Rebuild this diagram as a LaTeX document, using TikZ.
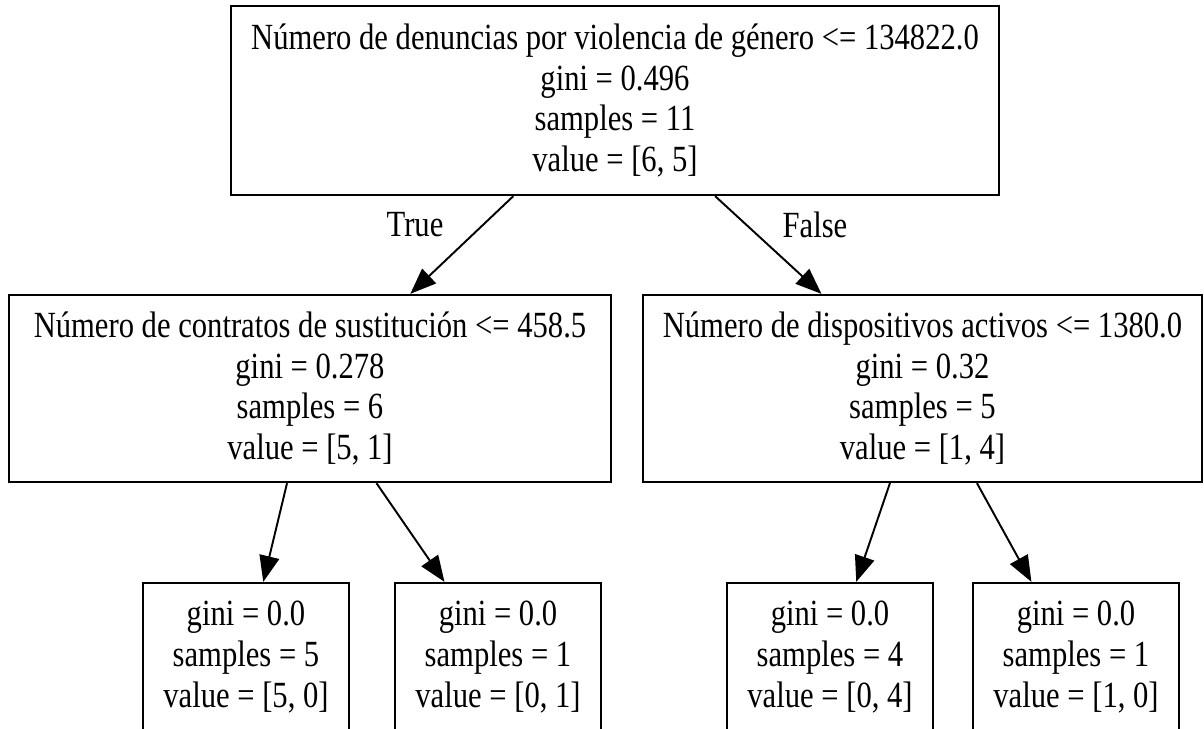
\documentclass[tikz,border=0pt]{standalone}
\usepackage{fontspec}
\setmainfont{Liberation Serif}[FakeStretch=0.83]
\usetikzlibrary{calc,arrows.meta}

\begin{document}
\begin{tikzpicture}[x=0.02cm,y=-0.02cm,
    box/.style={draw,line width=1.3pt,align=center,inner sep=0pt,
      font=\fontsize{21pt}{23.2pt}\selectfont},
    leaf/.style={box,minimum width=206*0.02cm,minimum height=148*0.02cm},
    edge/.style={line width=1.1pt,-{Triangle[length=0.52cm,width=0.4cm]}},
    lbl/.style={font=\fontsize{21pt}{23.2pt}\selectfont}]
				\useasboundingbox (0,0) rectangle (1204,729);
				
				\node[box,minimum width=768*0.02cm,minimum height=189*0.02cm] (root) at (615,100.5)
				  {Número de denuncias por violencia de género <= 134822.0\\gini = 0.496\\samples = 11\\value = [6, 5]};
				
				\node[box,minimum width=602*0.02cm,minimum height=187*0.02cm] (lmid) at (310,388.5)
				  {Número de contratos de sustitución <= 458.5\\gini = 0.278\\samples = 6\\value = [5, 1]};
				\node[box,minimum width=559*0.02cm,minimum height=187*0.02cm] (rmid) at (922.5,388.5)
				  {Número de dispositivos activos <= 1380.0\\gini = 0.32\\samples = 5\\value = [1, 4]};
				
				\node[leaf] (leafa) at (246,657) {gini = 0.0\\samples = 5\\value = [5, 0]};
				\node[leaf] (leafb) at (498,657) {gini = 0.0\\samples = 1\\value = [0, 1]};
				\node[leaf] (leafc) at (830,657) {gini = 0.0\\samples = 4\\value = [0, 4]};
				\node[leaf] (leafd) at (1076,657) {gini = 0.0\\samples = 1\\value = [1, 0]};
				
				\draw[edge] ($(root.south west)!0.368!(root.south east)$) -- ($(lmid.north west)!0.666!(lmid.north east)$);
				\draw[edge] ($(root.south west)!0.63!(root.south east)$) -- ($(rmid.north west)!0.32!(rmid.north east)$);
				\node[lbl] (ltrue) at (415,225) {True};
				\node[lbl] (lfalse) at (815,225) {False};
				
				\draw[edge] ($(lmid.south west)!0.462!(lmid.south east)$) -- ($(leafa.north west)!0.583!(leafa.north east)$);
				\draw[edge] ($(lmid.south west)!0.61!(lmid.south east)$) -- ($(leafb.north west)!0.243!(leafb.north east)$);
				\draw[edge] ($(rmid.south west)!0.442!(rmid.south east)$) -- ($(leafc.north west)!0.626!(leafc.north east)$);
				\draw[edge] ($(rmid.south west)!0.597!(rmid.south east)$) -- ($(leafd.north west)!0.286!(leafd.north east)$);
			\end{tikzpicture}
\end{document}
